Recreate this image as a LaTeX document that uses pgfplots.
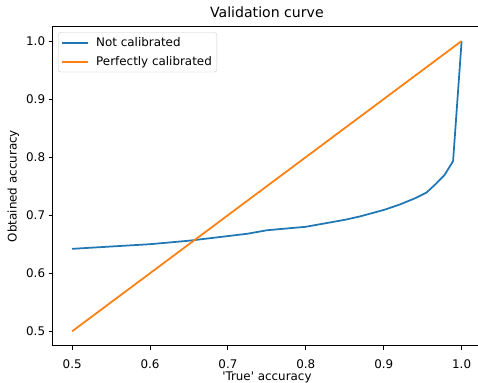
\documentclass[border=0pt]{standalone}
\usepackage{pgfplots}
\pgfplotsset{compat=1.18}
\usepackage{fontspec}
\setmainfont{DejaVu Sans}[Ligatures=TeXOff]
\definecolor{mplblue}{HTML}{1F77B4}
\definecolor{mplorange}{HTML}{FF7F0E}
\begin{document}
\begin{tikzpicture}
\begin{axis}[
  scale only axis,
  width=428.3pt, height=319.2pt,
  xmin=0.475, xmax=1.025, ymin=0.475, ymax=1.025,
  xtick={0.5,0.6,0.7,0.8,0.9,1.0},
  ytick={0.5,0.6,0.7,0.8,0.9,1.0},
  xticklabels={0.5,0.6,0.7,0.8,0.9,1.0},
  yticklabels={0.5,0.6,0.7,0.8,0.9,1.0},
  tick align=outside, tick pos=left,
  major tick length=4.1pt,
  every tick/.style={black, line width=0.94pt},
  axis line style={line width=0.94pt},
  ticklabel style={font=\fontsize{11.9}{14}\selectfont},
  xticklabel style={anchor=base, yshift=-19pt},
  title={Validation curve},
  title style={font=\fontsize{14.1}{16}\selectfont, at={(axis description cs:0.5,1.0266)}, anchor=base, inner sep=0pt, yshift=-5pt},
  xlabel={'True' accuracy},
  ylabel={Obtained accuracy},
  label style={font=\fontsize{11.9}{14}\selectfont},
  xlabel style={at={(axis description cs:0.5,-0.1075)}, anchor=base, inner sep=0pt},
  ylabel style={at={(axis description cs:-0.0841,0.5)}, anchor=base, inner sep=0pt},
  legend cell align=left,
  legend image code/.code={\draw[#1] (0pt,0pt) -- (26pt,0pt);},
  legend image post style={line width=1.75pt},
  legend style={font=\fontsize{11.9}{14}\selectfont, draw=black!20, rounded corners=2.5pt,
    at={(axis description cs:0.013,0.982)}, anchor=north west,
    inner xsep=3pt, inner ysep=3pt, row sep=4.5pt,
    /tikz/column sep=5pt},
]
\addplot[mplblue, line width=1.75pt] coordinates {
(0.500,0.642) (0.525,0.644) (0.550,0.646) (0.575,0.648) (0.600,0.650)
(0.625,0.653) (0.650,0.656) (0.675,0.660) (0.700,0.664) (0.725,0.668)
(0.750,0.674) (0.775,0.677) (0.800,0.680) (0.825,0.686) (0.850,0.692)
(0.870,0.698) (0.900,0.709) (0.920,0.718) (0.940,0.729) (0.955,0.739)
(0.967,0.754) (0.978,0.769) (0.989,0.793) (1.000,1.000)
};
\addlegendentry{Not calibrated}
\addplot[mplorange, line width=1.75pt] coordinates {(0.5,0.5) (1.0,1.0)};
\addlegendentry{Perfectly calibrated}
\end{axis}
\pgfresetboundingbox
\path[use as bounding box] ([xshift=-52.7pt,yshift=-36.3pt]current axis.south west) rectangle ([xshift=-3.1pt,yshift=26.5pt]current axis.north east);
\end{tikzpicture}
\end{document}
